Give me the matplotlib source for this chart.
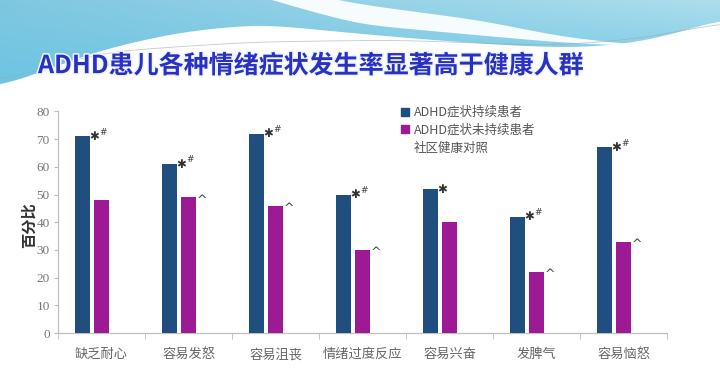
import matplotlib
matplotlib.use("Agg")
import matplotlib.pyplot as plt
import matplotlib.patheffects as pe
from matplotlib.patches import Patch, Polygon
import numpy as np

plt.rcParams['font.family'] = ['Noto Sans CJK SC', 'DejaVu Sans']

categories = ["缺乏耐心", "容易发怒", "容易沮丧", "情绪过度反应", "容易兴奋", "发脾气", "容易恼怒"]
persistent = [71, 61, 72, 50, 52, 42, 67]
non_persistent = [48, 49, 46, 30, 40, 22, 33]
series_names = ["ADHD症状持续患者", "ADHD症状未持续患者", "社区健康对照"]
blue_marks = ["*#", "*#", "*#", "*#", "*", "*#", "*#"]
purple_marks = ["", "^", "^", "^", "", "^", "^"]
yticks = [0, 10, 20, 30, 40, 50, 60, 70, 80]
title = "ADHD患儿各种情绪症状发生率显著高于健康人群"
ylabel = "百分比"

W, H = 720, 369
fig = plt.figure(figsize=(W / 100, H / 100), dpi=100)


def smooth_curve(xk, yk, xs, sigma=30.0):
    step = xs[1] - xs[0]
    pad = int(3 * sigma / step) + 1
    xe = np.concatenate([xs[0] - step * np.arange(pad, 0, -1), xs, xs[-1] + step * np.arange(1, pad + 1)])
    ye = np.interp(xe, xk, yk)
    k = np.arange(-pad, pad + 1) * step
    g = np.exp(-0.5 * (k / sigma) ** 2)
    g /= g.sum()
    return np.convolve(ye, g, mode='valid')


# ---- background with blue wave ----
bg = fig.add_axes([0, 0, 1, 1], zorder=-10)
bg.set_xlim(0, W)
bg.set_ylim(H, 0)
bg.axis('off')
gx, gy = np.meshgrid(np.linspace(0, 1, 256), np.linspace(0, 1, 120))
ctop_l = np.array([0.50, 0.78, 0.88])
ctop_r = np.array([0.68, 0.87, 0.93])
cbot = np.array([0.42, 0.77, 0.89])
top_col = ctop_l[None, None, :] * (1 - gx[..., None]) + ctop_r[None, None, :] * gx[..., None]
img = top_col * (1 - gy[..., None]) + cbot[None, None, :] * gy[..., None]
im = bg.imshow(img, extent=[0, W, 95, 0], aspect='auto', zorder=0)
xs = np.linspace(0, W, 361)
ys = smooth_curve([0, 40, 100, 180, 260, 340, 420, 500, 570, 630, 680, 720],
                  [88, 72, 50, 32, 24, 32, 39, 45, 48, 44, 33, 18], xs, 25)
poly = Polygon(list(zip(xs, ys)) + [(W, -5), (0, -5)], closed=True, transform=bg.transData)
im.set_clip_path(poly)
# white swoosh separating top blue and lower band on the right
sx = np.linspace(240, 660, 211)
st = smooth_curve([240, 300, 360, 480, 560, 640, 660], [-20, -8, 4, 20, 36, 45, 46], sx, 20)
sb = smooth_curve([240, 300, 360, 480, 560, 640, 660], [-10, 8, 24, 35, 42, 46, 46], sx, 20)
sb = np.maximum(sb, st)
bg.fill_between(sx, st, sb, color='white', alpha=0.93, lw=0, zorder=1)
# thin line
lx = np.linspace(0, 720, 361)
ly = smooth_curve([0, 100, 250, 400, 550, 650, 720], [82, 52, 42, 40, 46, 38, 22], lx, 30)
bg.plot(lx, ly, color='#9aa9b0', lw=0.6, alpha=0.6, zorder=2)

t = fig.text(38 / W, 1 - 66 / H, title, fontsize=18, fontweight='bold', color='#2a30c2',
             va='center', ha='left')
t.set_path_effects([pe.withStroke(linewidth=2.2, foreground='#eef7fb')])

# ---- chart ----
ax = fig.add_axes([58 / W, 1 - 333 / H, 609 / W, (333 - 111.5) / H])
ax.patch.set_alpha(0)
x = np.arange(len(categories))
bw = 0.172
off = 0.222
ax.bar(x - off, persistent, bw, color='#1f4e7f', zorder=3)
ax.bar(x, non_persistent, bw, color='#9c1a93', zorder=3)

for i in range(len(categories)):
    if blue_marks[i]:
        ax.annotate("✱", (x[i] - off + bw / 2, persistent[i]), xytext=(3, 0), textcoords='offset points',
                    ha='center', va='center', fontsize=8.5, color='#333333', family='DejaVu Sans')
        if "#" in blue_marks[i]:
            ax.annotate("#", (x[i] - off + bw / 2, persistent[i]), xytext=(9.5, 3), textcoords='offset points',
                        ha='center', va='center', fontsize=6.5, color='#444444', family='DejaVu Serif')
    if purple_marks[i]:
        ax.annotate("^", (x[i] + bw / 2, non_persistent[i]), xytext=(4.5, -2), textcoords='offset points',
                    ha='center', va='center', fontsize=9, color='#444444', family='DejaVu Sans')

ax.set_xlim(-0.5, len(categories) - 0.5)
ax.set_ylim(0, 80)
ax.set_yticks(yticks)
ax.set_yticklabels([str(v) for v in yticks], family='Liberation Serif', fontsize=9.5, color='#777777')
ax.set_xticks(x)
ax.set_xticklabels(categories, fontsize=9.5, color='#666666')
ax.set_xticks(np.arange(-0.5, len(categories)), minor=True)
ax.tick_params(axis='x', which='major', length=0, pad=11)
ax.tick_params(axis='x', which='minor', length=4, color='#bbbbbb', direction='out')
ax.tick_params(axis='y', length=3, color='#bbbbbb', pad=3)
for s in ['top', 'right']:
    ax.spines[s].set_visible(False)
for s in ['left', 'bottom']:
    ax.spines[s].set_color('#c0c0c0')
    ax.spines[s].set_linewidth(0.9)

fig.text(28.5 / W, 1 - 225 / H, ylabel, rotation=90, fontsize=11, fontweight='bold', color='#333333',
         ha='center', va='center')

handles = [Patch(color='#1f4e7f'), Patch(color='#9c1a93'), Patch(color='white', alpha=0)]
leg = fig.legend(handles, series_names, loc='upper left', bbox_to_anchor=(401 / W, 1 - 106 / H),
                 frameon=False, fontsize=9, handlelength=0.6, handleheight=0.6, handletextpad=0.45,
                 labelspacing=0.38, borderaxespad=0, borderpad=0)
for txt in leg.get_texts():
    txt.set_color('#555555')

fig.savefig("out.png", dpi=100)
